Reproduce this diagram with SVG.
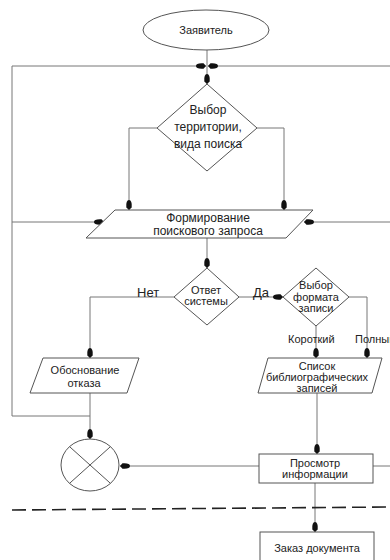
<svg xmlns="http://www.w3.org/2000/svg" width="390" height="560" viewBox="0 0 390 560">
<defs>
<style>
.s{fill:#fff;stroke:#555;stroke-width:1}
.c{fill:none;stroke:#777;stroke-width:1}
.ca{fill:none;stroke:#777;stroke-width:1;marker-end:url(#a)}
.t{font-family:"Liberation Sans",Arial,sans-serif;font-size:11px;fill:#222;text-anchor:middle}
.tl{font-family:"Liberation Sans",Arial,sans-serif;font-size:11px;fill:#222}
.big{font-size:12px}
</style>
<marker id="a" viewBox="0 0 12 8" markerWidth="12" markerHeight="8" refX="11" refY="4" orient="auto" markerUnits="userSpaceOnUse">
<path d="M11,4 L8.5,1.3 Q1,0.8 1,4 Q1,7.2 8.5,6.7 Z" fill="#111"/>
</marker>
</defs>
<rect width="390" height="560" fill="#fff"/>

<g id="connectors">
<path class="ca" d="M207,50 V84"/>
<path class="ca" d="M12,416 V66 H206"/>
<path class="ca" d="M390,66 H208"/>
<path class="ca" d="M12,222 H104"/>
<path class="ca" d="M390,222 H304"/>
<path class="ca" d="M157,128 H129 V210"/>
<path class="ca" d="M257,128 H284 V210"/>
<path class="ca" d="M207,238 V268"/>
<path class="ca" d="M174,297 H90 V358"/>
<path class="ca" d="M239,297 H283"/>
<path class="ca" d="M316,326 V358"/>
<path class="ca" d="M349,297 H367 V358"/>
<path class="c" d="M90,393 V416 H12"/>
<path class="ca" d="M90,416 V439"/>
<path class="ca" d="M317,392 V454"/>
<path class="ca" d="M259,466 H120"/>
<path class="c" d="M373,466 H390"/>
<path class="ca" d="M315,483 V532"/>
<path d="M12,510 L390,507" fill="none" stroke="#222" stroke-width="1.6" stroke-dasharray="14 6"/>
<text class="tl" x="137" y="297" style="font-size:13px">Нет</text>
<text class="tl" x="253" y="297" style="font-size:13px">Да</text>
<text class="tl" x="288" y="343">Короткий</text>
<text class="tl" x="355" y="343">Полный</text>
</g>

<g id="applicant">
<ellipse class="s" cx="206" cy="30" rx="63" ry="20"/>
<text class="t" x="206" y="34">Заявитель</text>
</g>

<g id="choose-territory">
<polygon class="s" points="207,84 257,128 207,171 157,128"/>
<text class="t big" x="208" y="114">Выбор</text>
<text class="t big" x="208" y="131">территории,</text>
<text class="t big" x="208" y="148">вида поиска</text>
</g>

<g id="form-query">
<polygon class="s" points="115,210 313,210 286,238 86,238"/>
<text class="t big" x="208" y="222">Формирование</text>
<text class="t big" x="208" y="235">поискового запроса</text>
</g>

<g id="system-answer">
<polygon class="s" points="207,268 239,297 207,325 174,297"/>
<text class="t" x="206" y="294">Ответ</text>
<text class="t" x="206" y="305">системы</text>
</g>

<g id="choose-format">
<polygon class="s" points="316,268 349,297 316,326 283,297"/>
<text class="t" x="316" y="289">Выбор</text>
<text class="t" x="316" y="301">формата</text>
<text class="t" x="316" y="312">записи</text>
</g>

<g id="refusal">
<polygon class="s" points="43,358 139,358 127,393 30,393"/>
<text class="t" x="85" y="374">Обоснование</text>
<text class="t" x="84" y="387">отказа</text>
</g>

<g id="biblio-list">
<polygon class="s" points="268,358 382,358 372,393 258,393"/>
<text class="t" x="317" y="370">Список</text>
<text class="t" x="317" y="381">библиографических</text>
<text class="t" x="317" y="392">записей</text>
</g>

<g id="end-circle">
<ellipse class="s" cx="90" cy="465" rx="29" ry="26"/>
<path d="M69.5,446.6 L110.5,483.4 M110.5,446.6 L69.5,483.4" stroke="#555" stroke-width="1" fill="none"/>
</g>

<g id="view-info">
<rect class="s" x="259" y="454" width="114" height="29"/>
<text class="t" x="315" y="467">Просмотр</text>
<text class="t" x="315" y="478">информации</text>
</g>

<g id="order-doc">
<rect class="s" x="260" y="532" width="114" height="40"/>
<text class="t" x="317" y="552">Заказ документа</text>
</g>
</svg>
